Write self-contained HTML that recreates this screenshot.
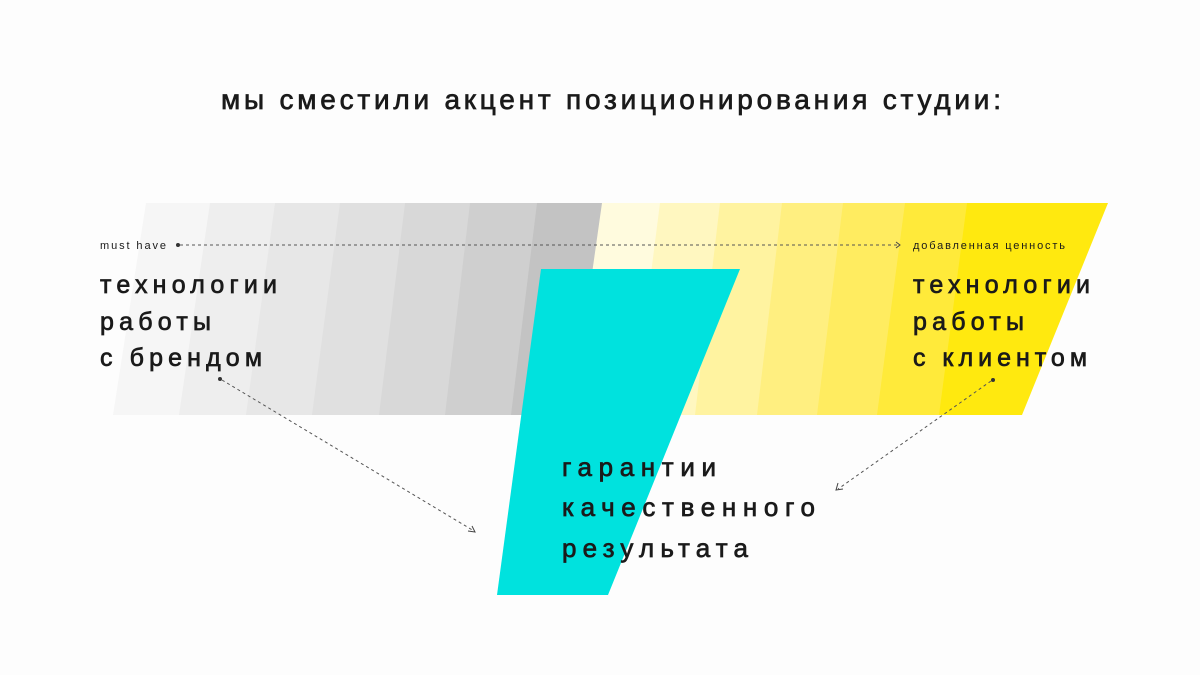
<!DOCTYPE html>
<html><head><meta charset="utf-8"><style>
html,body{margin:0;padding:0;background:#fdfdfd;}
svg{display:block}
text{font-family:"Liberation Sans","DejaVu Sans",sans-serif;fill:#1a1a1a;}
.m{stroke:#1a1a1a;stroke-width:0.7px;}
</style></head><body>
<svg width="1200" height="675" viewBox="0 0 1200 675" xmlns="http://www.w3.org/2000/svg">
<rect width="1200" height="675" fill="#fdfdfd"/>
<text class="m" x="221" y="109" font-size="28" textLength="780" lengthAdjust="spacing">мы сместили акцент позиционирования студии:</text>
<!-- grey stripes -->
<polygon points="146,203 211,203 180,415 113,415" fill="#f6f6f6"/>
<polygon points="210,203 276,203 247,415 179,415" fill="#eeeeee"/>
<polygon points="275,203 341,203 313,415 246,415" fill="#e7e7e7"/>
<polygon points="340,203 406,203 380,415 312,415" fill="#e0e0e0"/>
<polygon points="405,203 471,203 446,415 379,415" fill="#d8d8d8"/>
<polygon points="470,203 538,203 512,415 445,415" fill="#cfcfcf"/>
<polygon points="537,203 603,203 580,415 511,415" fill="#c3c3c3"/>
<!-- yellow stripes -->
<polygon points="602,203 661,203 634,415 572,415" fill="#fffbde"/>
<polygon points="660,203 721,203 696,415 633,415" fill="#fff7c0"/>
<polygon points="720,203 783,203 758,415 695,415" fill="#fff3a0"/>
<polygon points="782,203 844,203 818,415 757,415" fill="#ffef80"/>
<polygon points="843,203 906,203 878,415 817,415" fill="#ffec60"/>
<polygon points="905,203 968,203 940,415 877,415" fill="#ffea3a"/>
<polygon points="967,203 1108,203 1022,415 939,415" fill="#ffe90f"/>
<!-- cyan -->
<polygon points="541,269 740,269 608,595 497,595" fill="#00e2de"/>
<!-- dashed arrow line -->
<circle cx="178" cy="245" r="2" fill="#333"/>
<line x1="180" y1="245" x2="898" y2="245" stroke="#555" stroke-width="1" stroke-dasharray="3,3"/>
<polyline points="896,242 900,245 896,248" fill="none" stroke="#444" stroke-width="1"/>
<text x="100" y="249" font-size="11" textLength="66" lengthAdjust="spacing">must have</text>
<text x="913" y="249" font-size="11" textLength="152" lengthAdjust="spacing">добавленная ценность</text>
<!-- left/right text -->
<g font-size="25" class="m">
<text x="100" y="293" textLength="177" lengthAdjust="spacing">технологии</text>
<text x="100" y="330" textLength="111" lengthAdjust="spacing">работы</text>
<text x="100" y="366" textLength="162" lengthAdjust="spacing">с брендом</text>
<text x="913" y="293" textLength="177" lengthAdjust="spacing">технологии</text>
<text x="913" y="330" textLength="111" lengthAdjust="spacing">работы</text>
<text x="913" y="366" textLength="174" lengthAdjust="spacing">с клиентом</text>
</g>
<g font-size="26" class="m">
<text x="562" y="476" textLength="154" lengthAdjust="spacing">гарантии</text>
<text x="562" y="516" textLength="253" lengthAdjust="spacing">качественного</text>
<text x="562" y="557" textLength="186" lengthAdjust="spacing">результата</text>
</g>
<!-- connectors -->
<circle cx="220" cy="379" r="2" fill="#333"/>
<line x1="222" y1="380" x2="474" y2="531" stroke="#555" stroke-width="1" stroke-dasharray="3,3"/>
<polyline points="468,531 475,532 472,526" fill="none" stroke="#444" stroke-width="1"/>
<circle cx="993" cy="380" r="2" fill="#333"/>
<line x1="991" y1="381" x2="838" y2="489" stroke="#555" stroke-width="1" stroke-dasharray="3,3"/>
<polyline points="838,483 836,490 843,489" fill="none" stroke="#444" stroke-width="1"/>
</svg>
</body></html>
